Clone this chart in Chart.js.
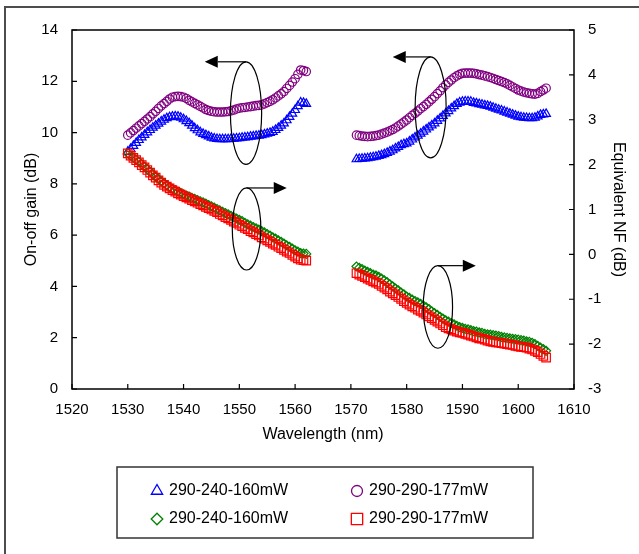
<!DOCTYPE html>
<html>
<head>
<meta charset="utf-8">
<script src="https://cdn.jsdelivr.net/npm/chart.js@4.4.0/dist/chart.umd.min.js"></script>
<style>
  html, body { margin: 0; padding: 0; background: #fff; }
  canvas { display: block; }
</style>
</head>
<body>
<canvas id="chart" width="639" height="554"></canvas>
<script>
// wavelength samples (nm), C band and L band
const wlC = [1530, 1530.5, 1531, 1531.5, 1532, 1532.5, 1533, 1533.5, 1534, 1534.5,
  1535, 1535.5, 1536, 1536.5, 1537, 1537.5, 1538, 1538.5, 1539, 1539.5,
  1540, 1540.5, 1541, 1541.5, 1542, 1542.5, 1543, 1543.5, 1544, 1544.5,
  1545, 1545.5, 1546, 1546.5, 1547, 1547.5, 1548, 1548.5, 1549, 1549.5,
  1550, 1550.5, 1551, 1551.5, 1552, 1552.5, 1553, 1553.5, 1554, 1554.5,
  1555, 1555.5, 1556, 1556.5, 1557, 1557.5, 1558, 1558.5, 1559, 1559.5,
  1560, 1560.5, 1561, 1561.5, 1562];
const wlL = [1571, 1571.5, 1572, 1572.5, 1573, 1573.5, 1574, 1574.5, 1575, 1575.5,
  1576, 1576.5, 1577, 1577.5, 1578, 1578.5, 1579, 1579.5, 1580, 1580.5,
  1581, 1581.5, 1582, 1582.5, 1583, 1583.5, 1584, 1584.5, 1585, 1585.5,
  1586, 1586.5, 1587, 1587.5, 1588, 1588.5, 1589, 1589.5, 1590, 1590.5,
  1591, 1591.5, 1592, 1592.5, 1593, 1593.5, 1594, 1594.5, 1595, 1595.5,
  1596, 1596.5, 1597, 1597.5, 1598, 1598.5, 1599, 1599.5, 1600, 1600.5,
  1601, 1601.5, 1602, 1602.5, 1603, 1603.5, 1604, 1604.5, 1605];

// on-off gain (dB), left axis
const gainA_C = [9.25, 9.36, 9.48, 9.60, 9.71, 9.81, 9.91, 10.01, 10.10, 10.19,
  10.27, 10.35, 10.43, 10.50, 10.56, 10.60, 10.62, 10.63, 10.62, 10.58,
  10.52, 10.45, 10.37, 10.27, 10.17, 10.09, 10.01, 9.95, 9.90, 9.85,
  9.80, 9.77, 9.75, 9.74, 9.74, 9.74, 9.74, 9.75, 9.76, 9.77,
  9.78, 9.80, 9.81, 9.82, 9.84, 9.85, 9.87, 9.88, 9.90, 9.93,
  9.96, 9.99, 10.03, 10.10, 10.18, 10.27, 10.36, 10.48, 10.61, 10.74,
  10.88, 11.03, 11.17, 11.16, 11.12];
const gainA_L = [8.96, 8.97, 8.98, 8.99, 9.00, 9.02, 9.04, 9.06, 9.09, 9.12,
  9.16, 9.21, 9.26, 9.31, 9.38, 9.44, 9.51, 9.55, 9.58, 9.65,
  9.73, 9.81, 9.88, 9.96, 10.04, 10.12, 10.20, 10.28, 10.36, 10.46,
  10.55, 10.65, 10.75, 10.84, 10.94, 11.03, 11.12, 11.17, 11.20, 11.21,
  11.21, 11.20, 11.16, 11.14, 11.11, 11.09, 11.06, 11.04, 11.01, 10.97,
  10.93, 10.89, 10.86, 10.82, 10.78, 10.74, 10.70, 10.66, 10.62, 10.60,
  10.58, 10.57, 10.56, 10.56, 10.58, 10.63, 10.69, 10.71, 10.73];
const gainB_C = [9.90, 9.99, 10.08, 10.17, 10.26, 10.35, 10.44, 10.53, 10.62, 10.73,
  10.83, 10.94, 11.04, 11.13, 11.22, 11.31, 11.38, 11.40, 11.41, 11.40,
  11.38, 11.33, 11.26, 11.20, 11.14, 11.08, 11.02, 10.96, 10.90, 10.86,
  10.83, 10.81, 10.80, 10.80, 10.80, 10.81, 10.82, 10.85, 10.88, 10.92,
  10.95, 10.97, 10.98, 11.00, 11.01, 11.03, 11.05, 11.06, 11.08, 11.12,
  11.17, 11.22, 11.28, 11.35, 11.43, 11.51, 11.60, 11.72, 11.84, 11.97,
  12.10, 12.27, 12.44, 12.42, 12.38];
const gainB_L = [9.90, 9.88, 9.86, 9.85, 9.84, 9.85, 9.86, 9.88, 9.90, 9.94,
  9.98, 10.02, 10.07, 10.12, 10.18, 10.25, 10.33, 10.41, 10.49, 10.58,
  10.67, 10.75, 10.84, 10.93, 11.01, 11.10, 11.20, 11.30, 11.40, 11.52,
  11.63, 11.75, 11.86, 11.96, 12.05, 12.14, 12.21, 12.27, 12.31, 12.32,
  12.32, 12.32, 12.31, 12.29, 12.26, 12.24, 12.21, 12.18, 12.15, 12.11,
  12.07, 12.03, 11.99, 11.95, 11.90, 11.84, 11.78, 11.72, 11.66, 11.62,
  11.58, 11.55, 11.53, 11.51, 11.50, 11.53, 11.60, 11.66, 11.73];

// equivalent NF (dB), right axis
const nfA_C = [2.25, 2.20, 2.16, 2.11, 2.06, 2.01, 1.95, 1.90, 1.84, 1.79,
  1.73, 1.68, 1.63, 1.58, 1.54, 1.50, 1.46, 1.43, 1.40, 1.37,
  1.34, 1.31, 1.29, 1.26, 1.24, 1.21, 1.18, 1.16, 1.13, 1.10,
  1.07, 1.04, 1.01, 0.98, 0.95, 0.92, 0.89, 0.86, 0.83, 0.80,
  0.77, 0.74, 0.70, 0.67, 0.64, 0.61, 0.58, 0.55, 0.52, 0.49,
  0.45, 0.42, 0.38, 0.35, 0.31, 0.28, 0.24, 0.20, 0.17, 0.13,
  0.09, 0.06, 0.03, 0.02, 0.01];
const nfA_L = [-0.27, -0.30, -0.33, -0.36, -0.39, -0.42, -0.45, -0.47, -0.50, -0.54,
  -0.58, -0.62, -0.67, -0.71, -0.76, -0.80, -0.85, -0.89, -0.94, -0.97,
  -1.01, -1.04, -1.07, -1.10, -1.14, -1.18, -1.22, -1.27, -1.31, -1.35,
  -1.39, -1.43, -1.47, -1.50, -1.53, -1.56, -1.59, -1.62, -1.64, -1.66,
  -1.67, -1.69, -1.71, -1.72, -1.74, -1.75, -1.77, -1.78, -1.79, -1.80,
  -1.81, -1.82, -1.84, -1.85, -1.86, -1.87, -1.88, -1.89, -1.90, -1.91,
  -1.92, -1.94, -1.95, -1.97, -2.00, -2.04, -2.08, -2.11, -2.15];
const nfB_C = [2.25, 2.20, 2.15, 2.10, 2.05, 1.99, 1.94, 1.88, 1.82, 1.76,
  1.71, 1.65, 1.60, 1.55, 1.51, 1.47, 1.43, 1.40, 1.36, 1.33,
  1.30, 1.27, 1.24, 1.21, 1.18, 1.15, 1.12, 1.09, 1.06, 1.03,
  1.00, 0.97, 0.94, 0.90, 0.87, 0.83, 0.80, 0.77, 0.73, 0.70,
  0.66, 0.63, 0.59, 0.56, 0.52, 0.49, 0.45, 0.42, 0.38, 0.35,
  0.31, 0.28, 0.24, 0.21, 0.17, 0.14, 0.10, 0.06, 0.03, -0.01,
  -0.05, -0.09, -0.12, -0.13, -0.14];
const nfB_L = [-0.42, -0.45, -0.48, -0.51, -0.54, -0.57, -0.60, -0.63, -0.66, -0.70,
  -0.74, -0.78, -0.83, -0.87, -0.91, -0.95, -0.99, -1.04, -1.08, -1.12,
  -1.16, -1.19, -1.23, -1.26, -1.30, -1.34, -1.38, -1.42, -1.46, -1.50,
  -1.54, -1.58, -1.62, -1.65, -1.67, -1.70, -1.72, -1.74, -1.75, -1.77,
  -1.79, -1.81, -1.83, -1.85, -1.87, -1.88, -1.90, -1.92, -1.94, -1.95,
  -1.96, -1.97, -1.98, -1.99, -2.00, -2.01, -2.02, -2.04, -2.05, -2.06,
  -2.07, -2.08, -2.10, -2.12, -2.15, -2.18, -2.22, -2.26, -2.30];

const seriesLabels = ['290-240-160mW', '290-290-177mW', '290-240-160mW', '290-290-177mW'];
const xTicks = [1520, 1530, 1540, 1550, 1560, 1570, 1580, 1590, 1600, 1610];

const toPts = (xs, ys) => xs.map((x, i) => ({ x: x, y: ys[i] }));

Chart.defaults.font.family = '"Liberation Sans", Arial, sans-serif';
Chart.defaults.color = '#000';

// ellipse + arrow callouts, in data units (left axis)
const callouts = [
  { cx: 1551.2, cy: 10.76, rx: 2.8, ry: 2.0, tip: 1543.8 },
  { cx: 1551.3, cy: 6.24, rx: 2.56, ry: 1.6, tip: 1558.5 },
  { cx: 1584.3, cy: 10.98, rx: 2.78, ry: 1.97, tip: 1577.5 },
  { cx: 1585.6, cy: 3.2, rx: 2.63, ry: 1.61, tip: 1592.4 }
];

// legend symbol sizes
const legendRadius = { triangle: 6.5, circle: 5.5, rectRot: 5.8, rect: 8 };

function marker(ctx, style, r, x, y) {
  ctx.beginPath();
  if (style === 'triangle') {
    ctx.moveTo(x, y - r);
    ctx.lineTo(x + r * Math.sqrt(3) / 2, y + r / 2);
    ctx.lineTo(x - r * Math.sqrt(3) / 2, y + r / 2);
    ctx.closePath();
  } else if (style === 'circle') {
    ctx.arc(x, y, r, 0, Math.PI * 2);
  } else if (style === 'rectRot') {
    ctx.moveTo(x, y - r); ctx.lineTo(x + r, y); ctx.lineTo(x, y + r); ctx.lineTo(x - r, y);
    ctx.closePath();
  } else {
    const s = r * Math.SQRT1_2;
    ctx.rect(x - s, y - s, 2 * s, 2 * s);
  }
  ctx.stroke();
}

const decor = {
  id: 'decor',
  afterDraw(chart) {
    const ctx = chart.ctx;
    const { left, right, top, bottom } = chart.chartArea;
    const sx = chart.scales.x, sy = chart.scales.y, sy2 = chart.scales.y2;
    ctx.save();

    // figure frame (top and left edges only)
    ctx.strokeStyle = '#4d4d4d';
    ctx.lineWidth = 2;
    ctx.beginPath();
    ctx.moveTo(5, 554); ctx.lineTo(5, 7); ctx.lineTo(639, 7);
    ctx.stroke();

    // plot box
    ctx.strokeStyle = '#000';
    ctx.lineWidth = 1.5;
    ctx.strokeRect(left, top, right - left, bottom - top);

    // inward tick marks
    ctx.lineWidth = 1.2;
    ctx.beginPath();
    sx.ticks.forEach(t => {
      const p = sx.getPixelForValue(t.value);
      ctx.moveTo(p, bottom); ctx.lineTo(p, bottom - 5);
    });
    sy.ticks.forEach(t => {
      const p = sy.getPixelForValue(t.value);
      ctx.moveTo(left, p); ctx.lineTo(left + 5, p);
    });
    sy2.ticks.forEach(t => {
      const p = sy2.getPixelForValue(t.value);
      ctx.moveTo(right, p); ctx.lineTo(right - 5, p);
    });
    ctx.stroke();

    // callouts
    callouts.forEach(c => {
      const px = sx.getPixelForValue(c.cx), py = sy.getPixelForValue(c.cy);
      const rx = sx.getPixelForValue(c.cx + c.rx) - px;
      const ry = py - sy.getPixelForValue(c.cy + c.ry);
      ctx.lineWidth = 1.2;
      ctx.beginPath();
      ctx.ellipse(px, py, rx, ry, 0, 0, Math.PI * 2);
      ctx.stroke();
      const ay = py - ry, tx = sx.getPixelForValue(c.tip);
      const dir = tx < px ? -1 : 1, head = 13;
      ctx.beginPath();
      ctx.moveTo(px, ay); ctx.lineTo(tx - dir * head, ay);
      ctx.stroke();
      ctx.beginPath();
      ctx.moveTo(tx, ay);
      ctx.lineTo(tx - dir * head, ay - 6);
      ctx.lineTo(tx - dir * head, ay + 6);
      ctx.closePath();
      ctx.fillStyle = '#000';
      ctx.fill();
    });

    // legend box
    ctx.strokeStyle = '#333';
    ctx.lineWidth = 1.5;
    ctx.strokeRect(117, 467, 416, 71);
    const cols = [157, 357], rows = [491, 519];
    ctx.font = '16px "Liberation Sans", Arial, sans-serif';
    ctx.textBaseline = 'middle';
    ctx.textAlign = 'left';
    chart.data.datasets.forEach((ds, i) => {
      const x = cols[i % 2], y = rows[Math.floor(i / 2)];
      ctx.strokeStyle = ds.pointBorderColor;
      ctx.lineWidth = 1.3;
      marker(ctx, ds.pointStyle, legendRadius[ds.pointStyle], x, y);
      ctx.fillStyle = '#000';
      ctx.fillText(ds.label, x + 12, y);
    });
    ctx.restore();
  }
};

new Chart(document.getElementById('chart'), {
  type: 'scatter',
  data: {
    datasets: [
      { label: seriesLabels[0], data: toPts(wlC, gainA_C).concat(toPts(wlL, gainA_L)), yAxisID: 'y',
        pointStyle: 'triangle', pointRadius: 5, pointBorderColor: '#0000ff', order: 2 },
      { label: seriesLabels[1], data: toPts(wlC, gainB_C).concat(toPts(wlL, gainB_L)), yAxisID: 'y',
        pointStyle: 'circle', pointRadius: 4.2, pointBorderColor: '#800080', order: 3 },
      { label: seriesLabels[2], data: toPts(wlC, nfA_C).concat(toPts(wlL, nfA_L)), yAxisID: 'y2',
        pointStyle: 'rectRot', pointRadius: 4.5, pointBorderColor: '#008000', order: 1 },
      { label: seriesLabels[3], data: toPts(wlC, nfB_C).concat(toPts(wlL, nfB_L)), yAxisID: 'y2',
        pointStyle: 'rect', pointRadius: 6, pointBorderColor: '#ff0000', order: 0 }
    ].map(d => Object.assign(d, {
      showLine: false,
      pointBackgroundColor: 'rgba(0,0,0,0)',
      pointBorderWidth: 1.2,
      pointHoverRadius: d.pointRadius
    }))
  },
  options: {
    responsive: false,
    animation: false,
    events: [],
    layout: { padding: { left: 18, right: 7, top: 30, bottom: 106 } },
    plugins: { legend: { display: false }, tooltip: { enabled: false } },
    scales: {
      x: {
        type: 'linear', position: 'bottom', min: 1520, max: 1610,
        afterBuildTicks: s => { s.ticks = xTicks.map(v => ({ value: v })); },
        grid: { display: false }, border: { display: false },
        ticks: { font: { size: 15 }, padding: 4, maxRotation: 0, callback: v => String(v) },
        title: { display: true, text: 'Wavelength (nm)', font: { size: 16 } },
        afterFit: s => { s.height = 59; }
      },
      y: {
        position: 'left', min: 0, max: 14,
        ticks: { stepSize: 2, font: { size: 15 }, padding: 6 },
        grid: { display: false }, border: { display: false },
        title: { display: true, text: 'On-off gain (dB)', font: { size: 16 } },
        afterFit: s => { s.width = 54; }
      },
      y2: {
        position: 'right', min: -3, max: 5,
        ticks: { stepSize: 1, font: { size: 15 }, padding: 6 },
        grid: { display: false }, border: { display: false },
        title: { display: true, text: 'Equivalent NF (dB)', font: { size: 16 } },
        afterFit: s => { s.width = 58; }
      }
    }
  },
  plugins: [decor]
});
</script>
</body>
</html>
